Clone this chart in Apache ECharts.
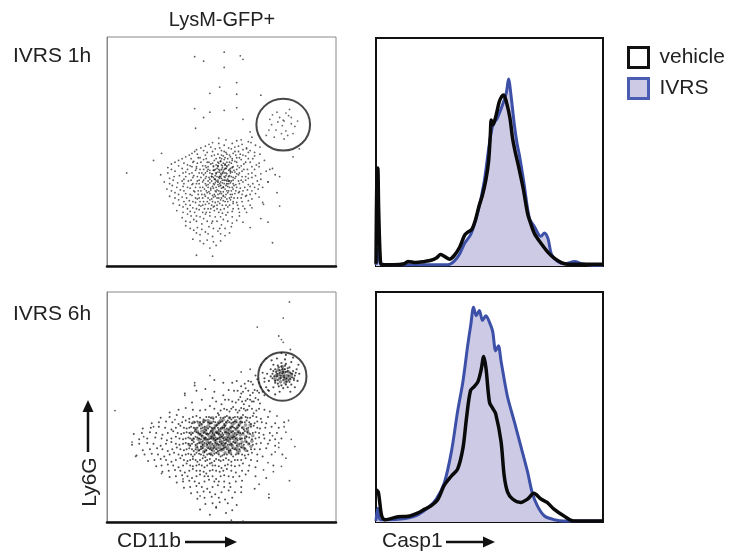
<!DOCTYPE html>
<html>
<head>
<meta charset="utf-8">
<script src="https://cdn.jsdelivr.net/npm/echarts@6/dist/echarts.min.js"></script>
<style>
html,body{margin:0;padding:0;background:#fff}
#main{width:731px;height:554px}
</style>
</head>
<body>
<div id="main"></div>
<script>
// channel scale for both dot plots and histograms
var CH_MAX = 256;

// ---- IVRS 1h dot plot (CD11b vs Ly6G) ----
var dots1hSparse = [[98,234],[108,229],[131,239],[149,235],[152,231],[131,222],[145,205],[126,200],[115,193],[145,192],[172,191],[98,176],[115,172],[131,174],[145,177],[108,166],[99,154],[152,164],[160,150],[215,131],[208,122],[52,118],[61,126],[22,104],[161,138],[156,131],[171,133],[182,108],[193,100],[180,94],[185,26],[180,49],[193,67],[174,71]];
var dots1hGate = [[185,169],[193,166],[200,171],[198,162],[206,159],[189,152],[178,146],[195,148],[202,146],[210,156],[184,158],[208,148],[203,168],[197,163],[191,161],[182,164],[187,144],[200,151],[206,166],[196,157],[190,172],[213,162],[181,152],[198,142],[204,175]];
var dots1hCloud = [[125,143],[150,141],[162,144],[118,138],[140,137],[158,139],[110,134],[131,135],[136,132],[147,134],[166,135],
[100,130],[121,131],[128,129],[139,131],[143,128],[152,130],[160,129],[95,126],[112,127],[124,125],[133,127],[137,124],[141,126],[149,125],[158,127],[171,125],
[88,122],[104,121],[117,123],[126,121],[130,123],[135,120],[138,122],[145,121],[155,123],[163,120],
[80,118],[97,117],[108,119],[114,116],[120,118],[127,117],[131,119],[134,116],[140,118],[143,117],[150,119],[160,116],[176,118],
[72,114],[90,113],[101,115],[110,112],[116,114],[122,113],[125,115],[129,112],[132,114],[136,113],[139,115],[146,112],[153,114],[167,113],
[68,110],[84,109],[95,111],[104,108],[111,110],[115,107],[119,111],[123,109],[126,107],[129,110],[131,108],[134,111],[138,109],[142,107],[148,110],[157,108],[170,111],[185,109],
[76,106],[88,105],[99,107],[106,104],[112,106],[117,103],[120,107],[124,105],[127,103],[130,106],[133,104],[136,107],[140,105],[145,103],[151,106],[162,104],[178,106],
[60,102],[81,101],[92,103],[101,100],[108,102],[114,99],[118,103],[121,101],[125,99],[128,102],[131,100],[134,103],[137,101],[141,99],[147,102],[155,100],[166,101],[188,102],
[70,98],[86,97],[96,99],[103,96],[110,98],[115,97],[119,99],[122,95],[126,98],[129,96],[132,99],[135,97],[139,95],[143,98],[150,96],[158,98],[172,97],
[64,94],[79,93],[91,95],[100,92],[107,94],[113,91],[117,95],[121,93],[124,91],[127,94],[131,92],[134,95],[138,93],[144,91],[152,94],[163,92],[180,94],
[73,90],[85,89],[95,91],[104,88],[111,90],[116,87],[120,91],[125,89],[128,87],[133,90],[137,88],[142,90],[149,87],[160,89],[174,88],
[67,86],[82,85],[93,87],[102,84],[109,86],[114,83],[119,87],[123,85],[127,83],[132,86],[136,84],[141,86],[148,83],[157,85],[169,86],
[76,82],[88,81],[98,83],[106,80],[112,82],[118,79],[122,83],[126,81],[130,79],[135,82],[140,80],[147,82],[156,79],[166,81],[190,82],
[70,78],[84,77],[95,79],[103,76],[110,78],[117,75],[121,78],[125,76],[130,78],[134,75],[139,77],[146,76],[155,78],[170,77],
[80,74],[92,73],[101,75],[108,72],[115,74],[121,71],[127,74],[132,72],[138,74],[145,71],[158,73],
[74,70],[88,69],[99,71],[107,68],[114,70],[120,67],[126,70],[133,68],[141,70],[152,67],[175,69],
[85,66],[96,65],[105,67],[113,64],[119,66],[127,63],[135,66],[147,64],[162,65],
[78,62],[93,61],[103,63],[111,60],[120,62],[129,59],[140,61],[156,60],
[90,58],[100,56],[110,58],[121,55],[133,57],[148,56],[84,54],[97,52],[108,53],[118,50],[130,52],[145,51],[172,53],
[93,49],[106,47],[117,48],[128,46],[140,48],[88,45],[101,43],[114,44],[126,42],[139,44],[160,43],
[97,40],[110,38],[124,39],[137,37],[104,35],[118,33],[132,34],[96,30],[112,29],[127,28],[108,25],[122,23],[115,20],[100,12],[118,11]];
var dots1hFill = [[133,141],[145,140],[114,136],[125,137],[151,136],[105,132],[116,133],[126,132],[143,133],[156,132],
[98,128],[108,129],[118,128],[131,128],[147,128],[165,127],[92,124],[101,125],[110,124],[120,124],[128,124],[134,125],[144,124],[152,124],[165,123],
[84,120],[94,120],[102,121],[111,120],[122,120],[128,120],[132,121],[140,120],[148,121],[158,120],
[76,116],[86,115],[96,116],[105,116],[112,116],[118,115],[124,116],[130,115],[137,116],[145,116],[155,116],[170,115],
[80,112],[93,112],[100,111],[107,112],[113,111],[119,112],[124,111],[128,113],[134,112],[141,111],[150,112],[162,111],
[72,108],[90,108],[100,109],[108,108],[113,108],[121,108],[125,108],[132,109],[137,108],[145,108],[153,108],[165,108],
[68,104],[85,104],[95,104],[103,104],[110,104],[115,104],[122,103],[126,105],[131,104],[138,104],[143,105],[148,104],[158,103],[172,103],
[75,100],[88,100],[97,101],[105,99],[111,100],[117,100],[123,100],[127,100],[133,101],[139,100],[144,100],[151,100],[162,99],
[74,96],[84,95],[94,96],[101,95],[108,96],[113,95],[120,97],[124,96],[128,98],[133,96],[137,95],[141,96],[147,95],[155,96],[168,95],
[70,92],[86,92],[96,92],[103,92],[110,92],[115,93],[119,92],[126,92],[129,93],[136,92],[141,92],[148,92],[158,91],[170,91],
[78,88],[90,88],[99,88],[107,88],[113,88],[118,89],[122,88],[130,88],[135,89],[140,88],[145,88],[154,88],[165,88],
[72,84],[86,84],[97,84],[105,84],[111,84],[116,85],[121,84],[125,84],[130,83],[134,84],[139,84],[144,84],[152,84],[162,84],
[80,80],[93,80],[102,80],[109,80],[115,81],[120,80],[124,80],[128,81],[133,80],[138,80],[143,81],[151,80],[160,80],
[76,76],[89,76],[99,76],[107,76],[113,76],[119,77],[123,76],[128,76],[132,77],[137,76],[142,76],[150,76],[162,75],
[86,72],[96,72],[104,72],[112,72],[118,72],[124,72],[130,73],[135,72],[141,72],[151,72],
[81,68],[93,68],[103,68],[110,69],[117,68],[123,68],[129,68],[137,68],[146,68],[160,68],
[90,64],[100,64],[109,64],[116,64],[123,64],[131,64],[141,64],[154,64],[85,60],[98,60],[107,60],[115,60],[125,60],[135,60],[148,60],
[94,56],[104,55],[115,56],[127,55],[140,55],[88,50],[100,50],[112,50],[123,50],[135,50],[152,49],
[93,42],[106,41],[119,42],[132,42],[100,37],[113,36],[127,36],[104,28],[119,27]];
var dots1hCore = [[124,112],[128,108],[133,109],[126,100],[131,96],[136,100],[122,104],[129,104],[134,92],[127,90],[121,97],[138,106],[124,94],[132,113],[119,107],[136,95],[130,88],[140,110],[117,100],[127,117]];
var gate1h = [197, 158, 30, 29]; // cx, cy, rx, ry in channels

// ---- IVRS 6h dot plot ----
var dots6hSparse = [[204,245],[197,227],[168,217],[192,207],[195,203],[197,200],[205,192],[115,163],[98,155],[9,124],[87,141],[76,114],[52,106],[41,95],[28,89],[32,73],[61,54],[85,48],[104,29],[122,17],[139,2],[152,1],[181,31],[204,46],[200,71],[198,106],[192,83],[172,175],[178,182],[160,170],[150,167],
[185,96],[192,88],[200,100],[206,92],[188,78],[210,84],[180,66],[195,62],[186,56],[203,113],[190,118],[175,58],[170,42]];
var dots6hCloud = [[98,152],[120,158],[140,155],[150,151],[158,157],[163,153],[168,159],[172,150],[176,156],[166,163],[174,166],
[87,143],[110,148],[130,141],[142,146],[150,143],[155,149],[160,141],[165,147],[170,144],[176,141],[180,147],
[95,133],[118,138],[128,131],[136,136],[144,133],[149,139],[153,131],[157,137],[162,134],[166,138],[171,132],
[70,122],[88,127],[104,124],[115,129],[124,121],[131,126],[137,123],[141,128],[146,122],[150,127],[155,124],[159,129],[164,121],[170,126],[182,123],
[60,116],[78,119],[92,115],[100,118],[108,114],[114,117],[119,115],[125,119],[130,116],[134,118],[139,114],[143,117],[148,115],[152,119],[157,116],[163,118],[172,115],
[50,110],[66,112],[80,109],[88,113],[95,110],[101,112],[106,109],[110,113],[115,110],[119,112],[123,108],[127,111],[131,109],[135,113],[139,110],[143,112],[147,108],[151,111],[156,113],[161,109],[168,112],[178,110],[198,111],
[40,104],[58,106],[72,103],[82,107],[89,104],[94,106],[99,103],[103,107],[107,105],[111,102],[115,106],[118,104],[122,107],[125,103],[129,105],[132,107],[136,103],[140,106],[144,104],[148,107],[153,103],[158,105],[164,107],[171,104],[184,106],
[30,98],[48,100],[62,97],[74,101],[83,98],[89,100],[94,97],[98,101],[102,99],[106,96],[109,100],[113,98],[116,101],[120,97],[123,99],[127,101],[130,97],[134,100],[137,98],[141,101],[145,97],[149,99],[154,101],[160,98],[166,100],[175,97],[190,99],
[36,92],[54,94],[67,91],[77,95],[85,92],[91,94],[95,91],[99,95],[103,93],[107,90],[110,94],[114,92],[117,95],[121,91],[124,93],[128,95],[131,91],[135,94],[138,92],[142,95],[146,91],[151,93],[156,95],[162,92],[170,94],[182,91],[195,93],
[28,86],[45,88],[60,85],[72,89],[81,86],[88,88],[93,85],[97,89],[101,87],[105,84],[109,88],[112,86],[116,89],[119,85],[123,87],[126,89],[130,85],[133,88],[137,86],[141,89],[145,85],[150,87],[156,89],[163,86],[172,88],[188,85],
[40,80],[56,82],[68,79],[78,83],[86,80],[92,82],[97,79],[101,83],[105,81],[109,78],[113,82],[117,80],[120,83],[124,79],[128,81],[132,83],[136,79],[140,82],[145,80],[150,83],[157,79],[165,81],[178,82],
[33,74],[50,76],[64,73],[75,77],[84,74],[91,76],[96,73],[100,77],[105,75],[110,72],[114,76],[118,74],[122,77],[127,73],[131,75],[136,77],[141,73],[147,76],[154,74],[162,77],[174,73],[196,75],
[46,68],[60,70],[72,67],[82,71],[90,68],[96,70],[101,67],[107,71],[112,69],[117,66],[122,70],[127,68],[133,71],[139,67],[146,69],[155,71],[168,68],
[55,62],[68,64],[80,61],[89,65],[96,62],[103,64],[109,61],[115,65],[121,63],[128,60],[135,64],[143,62],[152,65],[166,61],[186,63],
[62,56],[76,58],[87,55],[96,59],[104,57],[111,54],[118,58],[126,56],[134,59],[144,55],[158,57],
[70,50],[84,52],[95,49],[104,53],[113,51],[122,48],[131,52],[141,50],[155,53],[178,49],
[78,44],[92,46],[103,43],[114,47],[125,45],[137,43],[151,46],[86,38],[100,40],[112,37],[124,41],[138,39],[165,37],
[94,32],[108,34],[121,31],[136,35],[150,33],[101,26],[117,28],[132,25],[181,27],[110,20],[126,22],[145,19],[104,14],[122,16],[140,13],[115,8],[133,10]];
var dots6hFill = [[130,155],[145,157],[154,154],[161,156],[170,155],
[100,146],[120,145],[136,147],[146,146],[152,145],[158,146],[163,144],[168,146],[174,145],
[106,136],[122,134],[132,136],[140,134],[147,136],[151,134],[155,135],[160,136],[164,134],[169,136],
[80,125],[96,125],[110,125],[120,126],[127,124],[134,125],[139,126],[144,125],[148,124],[153,126],[157,125],[162,126],[167,124],[176,125],
[70,117],[85,117],[96,117],[104,116],[111,117],[116,116],[122,117],[127,116],[132,117],[137,116],[141,116],[146,117],[150,116],[155,117],[160,116],[167,117],[180,117],
[58,111],[73,111],[84,111],[92,111],[98,111],[104,111],[108,111],[113,111],[117,110],[121,111],[125,110],[129,112],[133,111],[137,111],[141,111],[145,111],[149,112],[154,111],[159,111],[165,110],[173,111],[188,110],
[49,105],[65,105],[77,105],[86,105],[92,105],[97,105],[101,105],[105,104],[109,106],[113,104],[117,105],[120,105],[124,105],[127,104],[131,105],[134,104],[138,105],[142,105],[146,105],[151,105],[156,104],[161,106],[168,105],[177,105],[192,105],
[39,99],[55,99],[68,99],[79,99],[86,99],[92,99],[96,99],[100,100],[104,98],[108,99],[111,98],[115,99],[118,99],[122,100],[125,98],[129,99],[132,100],[136,99],[139,100],[143,99],[147,100],[152,99],[157,100],[163,99],[170,99],[182,99],
[45,93],[61,93],[72,93],[81,93],[88,93],[93,93],[97,93],[101,94],[105,92],[109,93],[112,92],[116,93],[119,93],[123,92],[126,94],[130,93],[133,92],[137,93],[140,94],[144,93],[149,92],[154,93],[159,94],[166,93],[176,93],[188,92],
[36,87],[52,87],[66,87],[77,87],[85,87],[91,87],[95,87],[99,86],[103,88],[107,86],[111,87],[114,88],[118,87],[121,88],[125,86],[128,87],[132,87],[135,86],[139,87],[143,88],[148,87],[153,86],[159,87],[167,87],[180,87],
[48,81],[62,81],[73,81],[82,81],[89,81],[95,81],[99,81],[103,80],[107,82],[111,80],[115,81],[119,82],[122,81],[126,80],[130,82],[134,81],[138,80],[143,81],[148,81],[154,82],[161,81],[171,81],
[42,75],[57,75],[70,75],[80,75],[88,75],[94,75],[98,75],[103,76],[108,74],[112,75],[116,75],[120,76],[125,75],[129,74],[134,75],[139,75],[144,75],[151,75],[158,75],[168,75],[184,75],
[53,69],[66,69],[77,69],[86,69],[93,69],[99,69],[104,69],[110,68],[115,70],[120,68],[125,69],[130,69],[136,69],[143,69],[150,69],[161,69],
[61,63],[74,63],[85,63],[93,63],[100,63],[106,63],[112,63],[118,63],[125,62],[132,63],[139,63],[148,63],[159,63],
[69,57],[82,57],[92,57],[100,57],[108,56],[115,57],[122,57],[130,57],[139,57],[151,57],
[77,51],[90,51],[100,51],[109,51],[118,51],[127,51],[136,51],[148,51],[166,51],
[85,45],[98,45],[109,45],[120,45],[131,45],[144,45],[93,39],[106,39],[118,39],[131,39],[150,39],
[101,33],[115,33],[128,33],[143,33],[109,27],[125,27],[140,27],[118,21],[135,21]];
var dots6hCore = [[105,108],[110,104],[114,109],[118,102],[121,107],[125,111],[128,104],[132,108],[136,102],[140,107],[144,103],[148,109],[152,105],
[103,98],[107,95],[111,99],[115,94],[119,98],[122,93],[126,97],[130,94],[133,99],[137,95],[141,98],[145,93],[149,97],[155,95],
[104,89],[108,85],[112,90],[116,86],[120,91],[124,86],[127,90],[131,87],[135,91],[139,86],[143,90],[147,85],[151,89],[158,87],
[110,80],[115,83],[119,79],[123,82],[128,80],[132,84],[137,80],[142,82],[148,79],
[99,104],[96,92],[100,84],[157,102],[162,90],[113,113],[130,114],[144,113],[125,101],[134,91],[117,96],[128,86],[140,95],[122,100],[109,92],[146,99],[153,82],[106,101],
[103,110],[108,112],[112,106],[116,111],[120,104],[124,109],[127,113],[130,106],[134,111],[138,105],[142,110],[146,106],[150,111],[155,108],
[101,101],[105,97],[109,102],[113,97],[117,101],[120,95],[124,99],[128,96],[132,102],[135,97],[139,101],[143,96],[147,101],[152,98],[158,99],
[102,92],[106,88],[110,93],[114,88],[118,93],[122,89],[126,93],[129,89],[133,94],[137,89],[141,93],[145,88],[149,93],[155,90],
[106,83],[112,84],[117,82],[121,85],[126,83],[130,81],[135,83],[140,85],[145,82],[151,84],[108,78],[124,77],[138,77],
[94,99],[92,86],[97,111],[160,108],[163,96],[161,84],[118,116],[137,116],[150,116],[102,80],[116,76],[132,77],[146,77],[155,80]];
var dots6hGate = [[185,165],[188,170],[191,174],[195,177],[200,176],[204,172],[208,168],[210,163],[209,158],[206,153],[202,150],[197,149],[192,151],[188,155],[185,160],
[190,162],[193,166],[196,170],[200,167],[203,163],[205,159],[201,156],[197,158],[194,160],[191,158],[198,163],[202,171],[195,173],[189,167],[207,165],
[183,170],[186,175],[199,181],[206,178],[212,170],[213,157],[210,150],[193,145],[186,150],[181,157],[179,165],[184,180],[215,165],[200,186],[190,182],
[176,160],[178,150],[188,142],[205,145],[214,175],[208,183],[195,188],[181,146],
[187,162],[190,165],[193,169],[197,167],[199,170],[202,168],[205,166],[207,161],[204,156],[200,153],[195,152],[191,154],[188,157],[196,165],[194,163],[198,161],[201,160],[203,158],[192,172],[199,174],[186,168],[209,160],[211,166],[183,162]];
var dots6hGateCore = [[192,164],[195,167],[198,166],[201,163],[199,160],[196,162],[193,160],[197,170],[203,167],[189,163],[194,156],[200,158],[204,161],[196,173],[191,169],[206,164],[199,155],[188,159]];
var gate6h = [196, 162, 27, 27];

// ---- Casp1 histograms (% of max) ----
var vehicle1h = [[0,1],[1,40],[2,43],[3,25],[5,2],[7,0.5],[20,0.5],[32,1],[36,2],[45,1.5],[55,2],[62,2.5],[68,3.5],[73,5],[78,4],[83,3],[88,4.5],[94,8],[100,13.5],[104,15],[108,16],[112,20],[116,26],[120,31],[124,38],[127,46],[129,58],[130,64],[132,62],[134,64],[136,67],[139,72],[142,74.5],[144,75],[147,72],[151,65],[154,56],[157,50],[160,45],[166,34],[171,23],[175,18],[179,14],[186,10],[194,6],[201,3.5],[209,1.5],[216,0.8],[256,0.8]];
var ivrs1h = [[0,0.5],[3,8],[5,1],[20,0.5],[60,0.5],[81,0.5],[88,2],[94,5],[100,10],[107,14],[115,24],[122,37],[128,54],[132,62],[137,65],[143,71],[147,76],[149.5,82],[152.5,74],[156,62],[159,54],[162,48],[167,36],[173,21],[179,17],[186,13],[190,14.5],[194,12],[198,5],[205,2],[213,1],[224,2],[232,1],[250,0.3],[256,0.3]];
var vehicle6h = [[0,14],[2.6,13],[6.4,2.6],[10,1],[25,2.3],[36,2.5],[47.5,4],[55,5.6],[62,7],[70,10],[77,16],[85,20],[92,23],[98,32],[102,45],[106.5,57],[111,59],[115,61],[118.5,66],[121.5,72],[124,67],[128,52],[131.5,49.5],[135,47],[141,35],[144.6,20],[148.4,13],[154,10],[163,8.5],[171,10],[178,12.5],[186,10],[193,8.5],[200.7,5.6],[212,2.6],[223,0.4],[256,0.4]];
var ivrs6h = [[0,0.5],[2,6],[5,1],[25,1.2],[44,2.6],[59,6.3],[68,10],[77,17],[85,30.5],[92,48],[98,61],[103.5,77],[107,86],[110,93.4],[113,89.7],[116.6,92],[120,87.6],[124,89.7],[128,86.8],[131.5,83],[135,74.4],[138,76.6],[141,70],[148,55],[156,43.6],[163,33.4],[171,21.7],[176,13],[182,7],[190,2.6],[201,1],[212,0.4],[256,0.4]];

var FONT = 'Liberation Sans, Arial, sans-serif';
var BLUE = '#3d50a8';
var LILAC = '#cdcae6';

var grids = [
  {left: 107, top: 37, width: 229, height: 229},
  {left: 376, top: 38, width: 227, height: 228},
  {left: 107, top: 292, width: 229, height: 230},
  {left: 376, top: 292, width: 227, height: 230}
];

function axisX(i, dot) {
  return {type: 'value', gridIndex: i, min: 0, max: CH_MAX,
    axisLine: {show: true, onZero: false, lineStyle: {color: '#111', width: dot ? 2.5 : 2}},
    axisTick: {show: false}, axisLabel: {show: false}, splitLine: {show: false}};
}
function axisY(i, dot) {
  return {type: 'value', gridIndex: i, min: 0, max: dot ? CH_MAX : 100,
    axisLine: {show: true, onZero: false, lineStyle: {color: dot ? '#888' : '#111', width: dot ? 1 : 2}},
    axisTick: {show: false}, axisLabel: {show: false}, splitLine: {show: false}};
}

function dotSeries(data, idx, size, color) {
  return {type: 'scatter', xAxisIndex: idx, yAxisIndex: idx, data: data, symbolSize: size,
    itemStyle: {color: color}, silent: true};
}
function gateSeries(g, idx) {
  var gr = grids[idx];
  return {type: 'scatter', xAxisIndex: idx, yAxisIndex: idx, data: [[g[0], g[1]]], silent: true, z: 5,
    symbol: 'circle',
    symbolSize: [g[2] * 2 * gr.width / CH_MAX, g[3] * 2 * gr.height / CH_MAX],
    itemStyle: {color: 'rgba(0,0,0,0)', borderColor: '#1a1a1a', borderWidth: 2}};
}
function ivrsSeries(data, idx) {
  return {name: 'IVRS', type: 'line', xAxisIndex: idx, yAxisIndex: idx, data: data, showSymbol: false,
    smooth: 0.3, lineStyle: {color: BLUE, width: 3}, itemStyle: {color: LILAC},
    areaStyle: {color: LILAC, opacity: 1}, silent: true};
}
function vehicleSeries(data, idx) {
  return {name: 'vehicle', type: 'line', xAxisIndex: idx, yAxisIndex: idx, data: data, showSymbol: false,
    smooth: 0.3, lineStyle: {color: '#0a0a0a', width: 3.5}, itemStyle: {color: '#000'}, silent: true};
}

function arrow(x1, y1, x2, y2) {
  var dx = x2 - x1, dy = y2 - y1, len = Math.sqrt(dx * dx + dy * dy);
  var ux = dx / len, uy = dy / len, bx = x2 - ux * 12, by = y2 - uy * 12;
  return {type: 'group', children: [
    {type: 'line', shape: {x1: x1, y1: y1, x2: bx, y2: by}, style: {stroke: '#111', lineWidth: 2.5}},
    {type: 'polygon', shape: {points: [[x2, y2], [bx - uy * 5.5, by + ux * 5.5], [bx + uy * 5.5, by - ux * 5.5]]}, style: {fill: '#111'}}
  ]};
}
function label(txt, x, y, align, size) {
  return {type: 'text', x: x, y: y, style: {text: txt, font: (size || 21) + 'px ' + FONT, fill: '#222',
    textAlign: align || 'left', textVerticalAlign: 'middle'}};
}

var chart = echarts.init(document.getElementById('main'));
var option = {
  animation: false,
  backgroundColor: '#fff',
  grid: grids.map(function (g, i) {
    return Object.assign({show: true, borderColor: i % 2 ? '#111' : '#888', borderWidth: i % 2 ? 2 : 1,
      backgroundColor: 'transparent'}, g);
  }),
  xAxis: [axisX(0, true), axisX(1, false), axisX(2, true), axisX(3, false)],
  yAxis: [axisY(0, true), axisY(1, false), axisY(2, true), axisY(3, false)],
  legend: {
    orient: 'vertical', left: 627, top: 46, padding: 0, icon: 'rect', itemWidth: 20, itemHeight: 20, itemGap: 8,
    selectedMode: false,
    textStyle: {fontSize: 21, color: '#222', fontFamily: FONT, padding: [0, 0, 0, 6]},
    data: [
      {name: 'vehicle', itemStyle: {color: '#fff', borderColor: '#111', borderWidth: 3}},
      {name: 'IVRS', itemStyle: {color: LILAC, borderColor: '#4a5db2', borderWidth: 3}}
    ]
  },
  series: [
    dotSeries(dots1hSparse, 0, 1.8, '#333'),
    dotSeries(dots1hCloud, 0, 1.8, '#333'),
    dotSeries(dots1hFill, 0, 1.8, '#333'),
    dotSeries(dots1hCore, 0, 2, '#111'),
    dotSeries(dots1hGate, 0, 1.8, '#444'),
    gateSeries(gate1h, 0),
    dotSeries(dots6hSparse, 2, 1.8, '#333'),
    dotSeries(dots6hCloud, 2, 2, '#222'),
    dotSeries(dots6hFill, 2, 2, '#222'),
    dotSeries(dots6hCore, 2, 3.6, 'rgba(0,0,0,0.5)'),
    dotSeries(dots6hGate, 2, 2.2, '#222'),
    dotSeries(dots6hGateCore, 2, 3.6, 'rgba(0,0,0,0.55)'),
    gateSeries(gate6h, 2),
    ivrsSeries(ivrs1h, 1),
    vehicleSeries(vehicle1h, 1),
    ivrsSeries(ivrs6h, 3),
    vehicleSeries(vehicle6h, 3)
  ],
  graphic: [
    label('LysM-GFP+', 222, 20, 'center', 20),
    label('IVRS 1h', 13, 56),
    label('IVRS 6h', 13, 314),
    label('CD11b', 117, 541),
    label('Casp1', 382, 541),
    {type: 'text', x: 90, y: 482, rotation: Math.PI / 2,
      style: {text: 'Ly6G', font: '21px ' + FONT, fill: '#222', textAlign: 'center', textVerticalAlign: 'middle'}},
    arrow(185, 542, 237, 542),
    arrow(446, 542, 495, 542),
    arrow(88, 452, 88, 400)
  ]
};
chart.setOption(option);
</script>
</body>
</html>
